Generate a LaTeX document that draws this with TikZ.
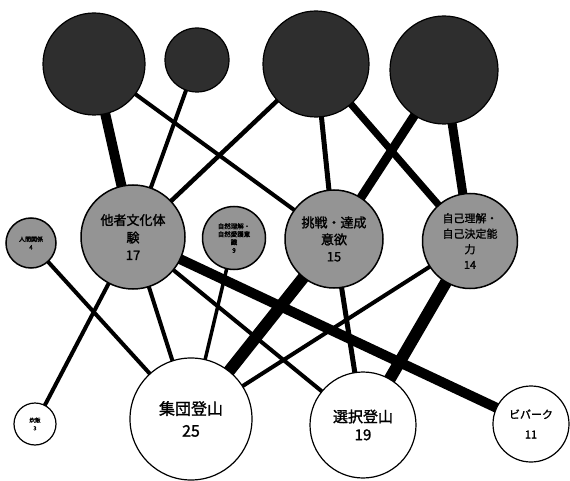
\documentclass[tikz,border=0pt]{standalone}
\usepackage{fontspec}
\usetikzlibrary{backgrounds}
\newfontfamily\jpb[FakeBold=1.5]{Noto Sans CJK JP}
\begin{document}
\begin{tikzpicture}[x=1pt,y=-1pt,
  topc/.style={circle,draw=black,line width=1.2pt,fill=black!82,inner sep=0pt},
  midc/.style={circle,draw=black,line width=1.5pt,fill=black!42,inner sep=0pt,align=center},
  botc/.style={circle,draw=black,line width=1.2pt,fill=white,inner sep=0pt,align=center},
  link/.style={draw=black,line cap=butt}]
\useasboundingbox (0,0) rectangle (570,481);
% top row
\node[topc,minimum size=102pt] (A) at (94,64) {};
\node[topc,minimum size=64pt] (B) at (197,60) {};
\node[topc,minimum size=106pt] (C) at (316,64) {};
\node[topc,minimum size=108pt] (D) at (444,70) {};
% middle row
\node[midc,minimum size=50pt,font=\jpb\fontsize{6}{8}\selectfont] (E) at (31,243) {人間関係\\4};
\node[midc,minimum size=104pt,font=\jpb\fontsize{13}{17.5}\selectfont] (F) at (133,237) {他者文化体\\験\\17};
\node[midc,minimum size=63pt,font=\jpb\fontsize{6.5}{8}\selectfont] (G) at (234,238) {自然理解・\\自然愛護意\\識\\9};
\node[midc,minimum size=98pt,font=\jpb\fontsize{13}{17}\selectfont] (H) at (334,239) {挑戦・達成\\意欲\\15};
\node[midc,minimum size=95pt,font=\jpb\fontsize{11}{15.5}\selectfont] (I) at (470,241) {自己理解・\\自己決定能\\力\\14};
% bottom row
\node[botc,minimum size=42pt,font=\jpb\fontsize{5.5}{8}\selectfont] (J) at (35,424) {炊飯\\3};
\node[botc,minimum size=122pt,font=\jpb\fontsize{16}{22}\selectfont] (K) at (191,419) {集団登山\\25};
\node[botc,minimum size=106pt,font=\jpb\fontsize{15}{18}\selectfont] (L) at (363,425) {選択登山\\19};
\node[botc,minimum size=76pt,font=\jpb\fontsize{11}{20}\selectfont] (M) at (531,424) {ビバーク\\11};
\begin{scope}[on background layer]
\draw[link,line width=10pt] (A.center) -- (F.center);
\draw[link,line width=4pt] (A.center) -- (H.center);
\draw[link,line width=4pt] (B.center) -- (F.center);
\draw[link,line width=4.5pt] (C.center) -- (F.center);
\draw[link,line width=5pt] (C.center) -- (H.center);
\draw[link,line width=7pt] (C.center) -- (I.center);
\draw[link,line width=9pt] (D.center) -- (H.center);
\draw[link,line width=9pt] (D.center) -- (I.center);
\draw[link,line width=4pt] (E.center) -- (K.center);
\draw[link,line width=4pt] (J.center) -- (F.center);
\draw[link,line width=4pt] (F.center) -- (K.center);
\draw[link,line width=4pt] (F.center) -- (L.center);
\draw[link,line width=10pt] (F.center) -- (M.center);
\draw[link,line width=3.5pt] (G.center) -- (K.center);
\draw[link,line width=12pt] (H.center) -- (K.center);
\draw[link,line width=5pt] (H.center) -- (L.center);
\draw[link,line width=4pt] (I.center) -- (K.center);
\draw[link,line width=12pt] (I.center) -- (L.center);
\end{scope}
\end{tikzpicture}
\end{document}
